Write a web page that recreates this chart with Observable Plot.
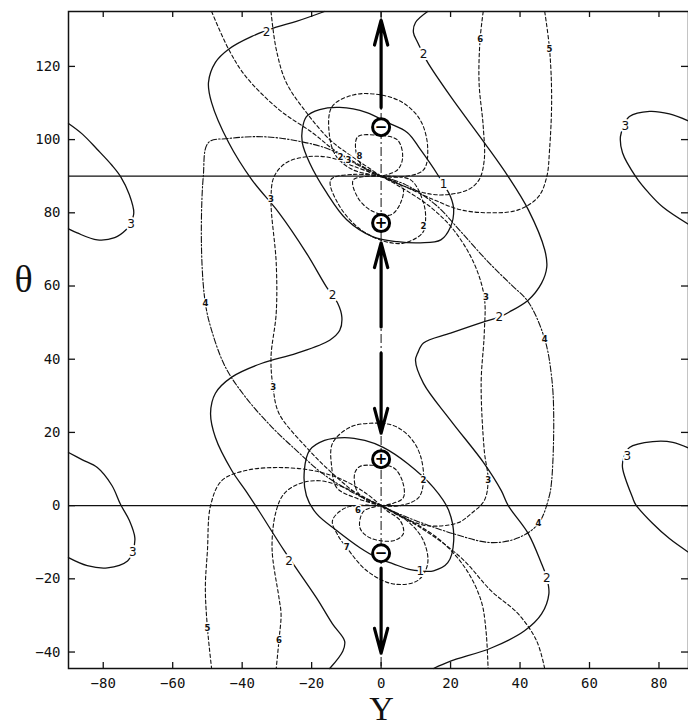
<!DOCTYPE html>
<html><head><meta charset="utf-8">
<script src="https://cdn.jsdelivr.net/npm/d3@7"></script>
<script src="https://cdn.jsdelivr.net/npm/@observablehq/plot@0.6"></script>
<style>body{margin:0;background:#fff}</style>
</head><body><div id="chart"></div>
<script>
const xTicks = [-80,-60,-40,-20,0,20,40,60,80];
const yTicks = [-40,-20,0,20,40,60,80,100,120];
const hLines = [0, 90];
const vLines = [0];

// solid contours [Y, theta]
const c3UpperLeft = [[-90,104.4],[-86,101.5],[-81.7,97.3],[-77.5,93],[-75,89.9],[-72.5,85],[-71.2,80],[-72.2,77],[-73.5,75.3],[-76.7,73.2],[-81.7,72.6],[-87.5,74.5],[-90,75.6]];
const c3LowerLeft = [[-90,14.5],[-86,12.5],[-81.7,10.4],[-77.5,5.5],[-75,0.3],[-72.5,-4],[-70.9,-8.8],[-71.5,-12.5],[-73,-15.1],[-78.8,-17],[-84.6,-16.4],[-90,-14.2]];
const c3UpperRight = [[90,104.5],[83,107],[77.3,107.7],[71.5,106.3],[69.8,103.6],[68.9,100.8],[69.5,96.4],[73.3,89.9],[77,85.5],[81.1,81.6],[90,76]];
const c3LowerRight = [[90,15.1],[84,17.3],[78.2,17.5],[71.5,15.9],[69.8,13],[69.5,10.4],[72.4,2.2],[73.3,0.3],[78.2,-4.9],[83,-9],[90,-13.7]];
const c2Left = [[-16.3,135],[-24.4,132.3],[-30.2,130.7],[-37.2,128.2],[-43.9,124.7],[-47.7,121.1],[-49.7,115.6],[-48.8,110.1],[-43.9,99.2],[-37.2,89],[-29.4,80],[-21.5,69],[-15.7,59.7],[-12.5,55.3],[-11.3,51.5],[-11.9,47.9],[-14.8,45.2],[-24.4,41.6],[-34.3,38.9],[-43,35.1],[-47.7,30.7],[-49.1,25.2],[-47.7,18.6],[-43,9.6],[-39,4.1],[-35.2,-1.4],[-27.9,-12.3],[-18.6,-25.2],[-14,-32.3],[-10.5,-37],[-11,-39.7],[-14.8,-44.5]];
const c2Right = [[13.4,135],[9.9,132],[9.3,129.3],[10.5,126.6],[12.2,123.3],[13.4,121.1],[20,111.8],[29.7,99.2],[36.6,89.9],[42.4,80.8],[47.1,69.9],[47.7,65.2],[46.2,60.8],[42.4,56.2],[36.9,52.9],[34,51.5],[30.2,50.4],[20,47.1],[12.2,44.4],[10.5,41.6],[9.9,39.7],[12.2,33.4],[20,23.3],[29.7,11.5],[34.6,4.1],[36.6,0],[42.4,-7.7],[46.2,-15.9],[47.7,-19.7],[48.3,-24.1],[46.2,-29.6],[41.3,-34.2],[31.7,-38.9],[20,-42.5],[15.1,-44.5]];
const c1Upper = [[18,87.7],[16.3,90.4],[11.3,97.3],[7.6,101.9],[1.7,104.7],[-4.1,107.4],[-11.9,108.8],[-17.7,108.2],[-21.5,106.3],[-22.7,102.7],[-22.7,99.2],[-20.6,93.7],[-15.7,85.5],[-9.9,78.1],[-2.3,73.4],[4.7,72.1],[11.3,71.8],[17.2,72.6],[20,76.2],[20.9,80.8],[20,84.4],[18,87.7]];
const c1Lower = [[11.3,-17.8],[8.4,-17.5],[3.5,-15.9],[-1.2,-14.2],[-6.1,-11.5],[-12.8,-6.8],[-18.6,-2.2],[-21.5,2.7],[-22.1,9.6],[-20.6,15.1],[-16.3,17.8],[-10.5,18.6],[-4.7,17.8],[0.6,15.9],[7.6,11.5],[15.1,4.9],[19.5,-1.4],[20.9,-9.6],[19.2,-15.6],[15.1,-17.8],[11.3,-17.8]];

// dashed contours
const d3Left = [[0,90],[-7.6,92.6],[-14.8,95.1],[-21.5,95.3],[-27.3,93.7],[-30.8,89.9],[-31.7,83.6],[-30.2,66.3],[-30.2,52.6],[-31.7,40.5],[-31.1,32.3],[-29.4,25.2],[-21.5,15.9],[-14,8.8],[-6.1,2.7],[0,0]];
const d4Left = [[0,90],[-7,93.2],[-14.8,97.3],[-24.4,99.7],[-34.3,100.8],[-43.9,100.3],[-49.7,99.2],[-51.2,89.9],[-51.7,69.9],[-50.6,55.3],[-48.8,47.9],[-44.8,37.8],[-39,29.6],[-31.4,21.4],[-24.4,15.1],[-16.9,8.8],[-7.6,3.3],[0,0]];
const d3Right = [[0,90],[5.5,87.1],[14.2,81.6],[20.9,75.3],[26.7,66.3],[29.7,57],[29.7,47.1],[28.8,33.4],[29.7,15.1],[30.8,6.8],[29.7,1.4],[25.9,-2.2],[22.1,-4.7],[13.4,-5.5],[6.4,-3.3],[0,0]];
const d4Right = [[0,90],[7,87.7],[15.7,82.2],[23,74.8],[30.8,66.6],[37.5,60.3],[42.4,55.6],[47.1,45.5],[49.1,35.1],[49.7,24.1],[49.1,6.8],[48.3,2.2],[45.3,-4.9],[39.5,-8.8],[31.7,-10.1],[20.9,-7.7],[7,-3],[0,0]];
const d5Bottom = [[0,0],[-4.7,3.6],[-11.9,7.4],[-19.8,9.6],[-29.4,10.4],[-39,9.6],[-45.9,6.8],[-49.1,0],[-50,-12.3],[-50.6,-22.5],[-50,-33.4],[-48.8,-44.5]];
const d5Top = [[-48.8,135],[-43.9,124.7],[-39,117.3],[-29.4,108.2],[-19.8,101.9],[-12.8,96.7],[0,90]];
const d6Bottom = [[0,0],[-4.7,2.2],[-10.5,4.9],[-17.7,6.8],[-23.5,6],[-27.9,3.3],[-30.2,-1.4],[-31.4,-11.5],[-29.4,-25.2],[-28.8,-29.6],[-29.4,-36.7],[-30.2,-44.5]];
const d6Top = [[-31.7,135],[-30.2,124.7],[-27.3,115.6],[-21.5,107.4],[-14.8,100],[-9.9,96.4],[0,90]];
const d6TopRight = [[29.4,135],[28.5,127.4],[28.2,115.6],[29.4,103.6],[29.7,94.5],[28.2,89],[25,86.3],[18,84.9],[12.2,85.5],[5.5,87.7],[0,90]];
const d6BottomRight = [[0,0],[8.4,-4.1],[17.2,-9.6],[24.4,-17.3],[28.8,-26],[30.2,-34.2],[30.8,-44.5]];
const d5TopRight = [[47.1,135],[48.5,124.7],[49.1,111],[48.5,97.3],[47.7,89.9],[45.3,84.4],[39.5,80.8],[31.7,80],[23,80.8],[15.1,83.6],[7,87.1],[0,90]];
const d5BottomRight = [[0,0],[11.3,-6],[23,-14.2],[31.7,-23.3],[39.5,-29.6],[44.8,-37],[47.1,-44.5]];
const loop2Lower = [[0,0],[-7.6,2.2],[-12.8,4.9],[-14.2,10.4],[-14,17],[-9,21.4],[-3.2,22.5],[3.5,21.9],[8.4,18.6],[11.3,13.7],[12.2,6.8],[10.8,2.2],[5.5,0],[0,0]];
const loopSmallUpLower = [[0,0],[-4.1,1.4],[-7,4.1],[-7.6,8.8],[-6.1,10.7],[-1.7,11],[3.5,10.4],[6.1,6.8],[6.4,2.2],[3,0.5],[0,0]];
const loop7Lower = [[0,0],[-10,-0.5],[-14,-4.1],[-12.5,-8],[-9.9,-11.5],[-4.1,-17.8],[3.5,-21.4],[10.5,-20.5],[13.4,-15.9],[12.2,-9.6],[8.4,-4.9],[3,-1.5],[0,0]];
const loop6Lower = [[0,0],[-5,-1.5],[-6.1,-6],[-3.2,-8.8],[3.5,-9.6],[6.4,-7.7],[5.5,-4.1],[1.7,-1.4],[0,0]];
const loopUpUpper = [[0,90],[-8,91.7],[-12.8,95.3],[-14.8,100.7],[-14.2,108.9],[-8,112.2],[0,112.2],[6.4,110],[11.3,105.3],[13.4,98],[12.2,91.7],[5.5,89.8],[0,90]];
const loopSmallUpUpper = [[0,90],[-4,91.5],[-6.8,95],[-6.8,100.7],[-1.2,101.2],[4.7,99.9],[6.2,95.2],[4.7,91.7],[0,90]];
const loop2Upper = [[0,90],[-8,90.5],[-14.5,89],[-12.5,82.7],[-6.8,76.1],[0,72.5],[6.4,71.7],[11.9,74.5],[12.8,78],[12.2,82.7],[8.5,89],[0,90]];
const loopSmallDownUpper = [[0,90],[-8,89],[-6.8,84.3],[-3,80.7],[2.7,79.4],[5.6,82.7],[6.2,87],[0,90]];

// labels
const solidLabels = [
  {Y:-72,t:77,s:"3"},{Y:-71.5,t:-12.6,s:"3"},{Y:70.3,t:103.6,s:"3"},{Y:70.9,t:13.4,s:"3"},
  {Y:-33,t:129.3,s:"2"},{Y:-14,t:57.5,s:"2"},{Y:-26.5,t:-15.1,s:"2"},
  {Y:12.2,t:123.3,s:"2"},{Y:34,t:51.5,s:"2"},{Y:47.7,t:-19.7,s:"2"},
  {Y:18,t:87.7,s:"1"},{Y:11.3,t:-17.8,s:"1"}
];
const dashLabels = [
  {Y:-31.7,t:83.6,s:"3"},{Y:-31.1,t:32.3,s:"3"},{Y:-50.6,t:55.3,s:"4"},
  {Y:30.2,t:57,s:"3"},{Y:30.8,t:6.8,s:"3"},{Y:47.1,t:45.5,s:"4"},{Y:45.3,t:-4.9,s:"4"},
  {Y:-50,t:-33.4,s:"5"},{Y:-29.4,t:-36.7,s:"6"},{Y:28.5,t:127.4,s:"6"},{Y:48.5,t:124.7,s:"5"},
  {Y:12.2,t:6.8,s:"2"},{Y:-9.9,t:-11.5,s:"7"},{Y:-6.7,t:-1.4,s:"6"},{Y:12.2,t:76.2,s:"2"},
  {Y:-6.2,t:95.5,s:"8"},{Y:-11.7,t:95.2,s:"2"},{Y:-9.4,t:94.4,s:"3"}
];
const charges = [{Y:0,t:103.4,s:"−"},{Y:0,t:77.2,s:"+"},{Y:0,t:12.7,s:"+"},{Y:0,t:-13,s:"−"}];
const arrows = [{Y:0,t1:108.8,t2:132.6},{Y:0,t1:48.8,t2:71.8},{Y:0,t1:41.7,t2:19.8},{Y:0,t1:-17.1,t2:-40.3}];

const solidSet = [c3UpperLeft,c3LowerLeft,c3UpperRight,c3LowerRight,c2Left,c2Right,c1Upper,c1Lower];
const dashSet = [d3Left,d3Right,d5Bottom,d5Top,d6Bottom,d6Top,d6TopRight,d6BottomRight,d5TopRight,d5BottomRight,loop2Lower,loopSmallUpLower,loop7Lower,loop6Lower,loopUpUpper,loopSmallUpUpper,loop2Upper,loopSmallDownUpper];
const dashDotSet = [d4Left,d4Right];

const px = d => d[0], py = d => d[1];
const marks = [];
marks.push(Plot.ruleY(hLines, {stroke:"#111", strokeWidth:1.3}));
marks.push(Plot.ruleX(vLines, {stroke:"#111", strokeWidth:1, strokeDasharray:"9,3,2,3"}));
for (const a of solidSet) marks.push(Plot.line(a, {x:px, y:py, curve:"catmull-rom", stroke:"#111", strokeWidth:1.3}));
for (const a of dashSet) marks.push(Plot.line(a, {x:px, y:py, curve:"catmull-rom", stroke:"#111", strokeWidth:1.1, strokeDasharray:"3.5,2.5"}));
for (const a of dashDotSet) marks.push(Plot.line(a, {x:px, y:py, curve:"catmull-rom", stroke:"#111", strokeWidth:1.1, strokeDasharray:"6,2,1.5,2"}));
marks.push(Plot.text(solidLabels, {x:"Y", y:"t", text:"s", fontFamily:"DejaVu Sans", fontSize:12, fill:"#111", stroke:"white", strokeWidth:4, paintOrder:"stroke"}));
marks.push(Plot.text(dashLabels, {x:"Y", y:"t", text:"s", fontFamily:"DejaVu Sans", fontSize:8.5, fontWeight:"bold", fill:"#111", stroke:"white", strokeWidth:2.5, paintOrder:"stroke"}));
marks.push(Plot.arrow(arrows, {x1:"Y", x2:"Y", y1:"t1", y2:"t2", stroke:"#000", strokeWidth:3.2, headLength:12, headAngle:30}));
marks.push(Plot.dot(charges, {x:"Y", y:"t", r:8.5, stroke:"#000", strokeWidth:3, fill:"white"}));
marks.push(Plot.text(charges, {x:"Y", y:"t", text:"s", fontFamily:"DejaVu Sans", fontSize:15, fontWeight:"bold", fill:"#000"}));
marks.push(Plot.frame({stroke:"#111", strokeWidth:1.5}));
// inward tick marks on all four sides
marks.push(Plot.tickX(xTicks, {x:d => d, insetTop:651, stroke:"#111", strokeWidth:1.3}));
marks.push(Plot.tickX(xTicks, {x:d => d, insetBottom:651, stroke:"#111", strokeWidth:1.3}));
marks.push(Plot.tickY(yTicks, {y:d => d, insetRight:613, stroke:"#111", strokeWidth:1.3}));
marks.push(Plot.tickY(yTicks, {y:d => d, insetLeft:613, stroke:"#111", strokeWidth:1.3}));
marks.push(Plot.axisX(xTicks, {anchor:"bottom", tickSize:0, tickPadding:10, label:null, fontSize:14}));
marks.push(Plot.axisY(yTicks, {anchor:"left", tickSize:0, tickPadding:8, label:null, fontSize:14}));
marks.push(Plot.text(["θ"], {frameAnchor:"left", dx:-54, dy:-60, fontFamily:"Liberation Serif", fontSize:38, fill:"#111"}));
marks.push(Plot.text(["Y"], {frameAnchor:"bottom", lineAnchor:"middle", dx:3, dy:41, fontFamily:"Liberation Serif", fontSize:34, fill:"#111"}));

const chart = Plot.plot({
  width:688, height:726,
  marginLeft:68, marginRight:0, marginTop:11, marginBottom:58,
  x:{domain:[-90,88.5]},
  y:{domain:[-44.5,135]},
  style:{fontFamily:"DejaVu Sans Mono", fontSize:"14px", color:"#111", background:"white"},
  marks
});
document.getElementById("chart").appendChild(chart);
</script>
</body></html>
